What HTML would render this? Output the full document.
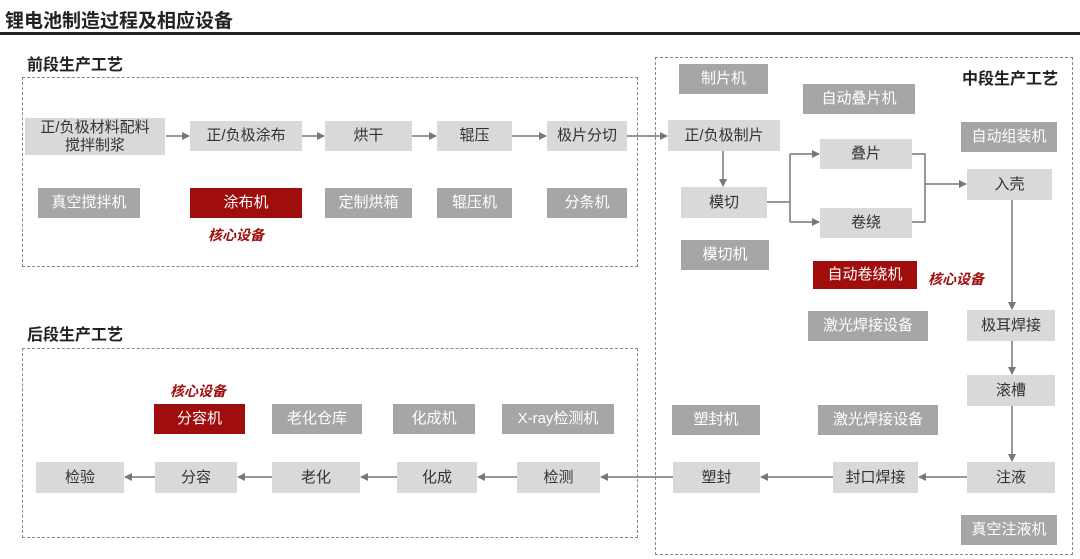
<!DOCTYPE html>
<html><head><meta charset="utf-8"><style>
body{margin:0;width:1080px;height:559px;background:#fff;position:relative;overflow:hidden;font-family:"Liberation Sans","Noto Sans CJK SC",sans-serif}
.b{position:absolute;display:flex;align-items:center;justify-content:center;font-size:15px;line-height:18px;text-align:center}
.l{background:#d9d9d9;color:#333}
.g{background:#a6a6a6;color:#fff}
.r{background:#a00d0d;color:#fff}
.t{position:absolute;font-weight:bold;color:#222;font-size:16px}
.k{position:absolute;color:#a00d0d;font-weight:bold;font-style:italic;font-size:14px}
.d{position:absolute;border:1.5px dashed #888}
</style></head><body>
<div class="t" style="left:5px;top:6px;font-size:19px">锂电池制造过程及相应设备</div>
<div style="position:absolute;left:0;top:32px;width:1080px;height:3px;background:#222"></div>
<div class="t" style="left:27px;top:51px">前段生产工艺</div>
<div class="d" style="left:22px;top:77px;width:614px;height:188px"></div>
<div class="t" style="left:27px;top:321px">后段生产工艺</div>
<div class="d" style="left:22px;top:348px;width:614px;height:188px"></div>
<div class="d" style="left:655px;top:57px;width:416px;height:496px"></div>
<div class="t" style="left:962px;top:65px">中段生产工艺</div>

<div class="b l" style="left:25px;top:118px;width:140px;height:37px">正/负极材料配料<br>搅拌制浆</div>
<div class="b l" style="left:190px;top:121px;width:112px;height:30px">正/负极涂布</div>
<div class="b l" style="left:325px;top:121px;width:87px;height:30px">烘干</div>
<div class="b l" style="left:437px;top:121px;width:75px;height:30px">辊压</div>
<div class="b l" style="left:547px;top:121px;width:80px;height:30px">极片分切</div>
<div class="b g" style="left:38px;top:188px;width:102px;height:30px">真空搅拌机</div>
<div class="b r" style="left:190px;top:188px;width:112px;height:30px">涂布机</div>
<div class="b g" style="left:325px;top:188px;width:87px;height:30px">定制烘箱</div>
<div class="b g" style="left:437px;top:188px;width:75px;height:30px">辊压机</div>
<div class="b g" style="left:547px;top:188px;width:80px;height:30px">分条机</div>
<div class="k" style="left:208px;top:225px">核心设备</div>

<div class="b g" style="left:679px;top:64px;width:89px;height:30px">制片机</div>
<div class="b g" style="left:803px;top:84px;width:112px;height:30px">自动叠片机</div>
<div class="b l" style="left:668px;top:120px;width:112px;height:31px">正/负极制片</div>
<div class="b g" style="left:961px;top:122px;width:96px;height:30px">自动组装机</div>
<div class="b l" style="left:820px;top:139px;width:92px;height:30px">叠片</div>
<div class="b l" style="left:967px;top:169px;width:85px;height:31px">入壳</div>
<div class="b l" style="left:681px;top:187px;width:86px;height:31px">模切</div>
<div class="b l" style="left:820px;top:208px;width:92px;height:30px">卷绕</div>
<div class="b g" style="left:681px;top:240px;width:88px;height:30px">模切机</div>
<div class="b r" style="left:813px;top:261px;width:104px;height:28px">自动卷绕机</div>
<div class="k" style="left:928px;top:269px">核心设备</div>
<div class="b g" style="left:808px;top:311px;width:120px;height:30px">激光焊接设备</div>
<div class="b l" style="left:967px;top:310px;width:88px;height:31px">极耳焊接</div>
<div class="b l" style="left:967px;top:375px;width:88px;height:31px">滚槽</div>
<div class="b g" style="left:672px;top:405px;width:88px;height:30px">塑封机</div>
<div class="b g" style="left:818px;top:405px;width:120px;height:30px">激光焊接设备</div>
<div class="b l" style="left:967px;top:462px;width:88px;height:31px">注液</div>
<div class="b l" style="left:833px;top:462px;width:85px;height:31px">封口焊接</div>
<div class="b l" style="left:673px;top:462px;width:87px;height:31px">塑封</div>
<div class="b g" style="left:961px;top:515px;width:96px;height:30px">真空注液机</div>

<div class="k" style="left:170px;top:381px">核心设备</div>
<div class="b r" style="left:154px;top:404px;width:91px;height:30px">分容机</div>
<div class="b g" style="left:272px;top:404px;width:90px;height:30px">老化仓库</div>
<div class="b g" style="left:393px;top:404px;width:82px;height:30px">化成机</div>
<div class="b g" style="left:502px;top:404px;width:112px;height:30px">X-ray检测机</div>
<div class="b l" style="left:36px;top:462px;width:88px;height:31px">检验</div>
<div class="b l" style="left:155px;top:462px;width:82px;height:31px">分容</div>
<div class="b l" style="left:272px;top:462px;width:88px;height:31px">老化</div>
<div class="b l" style="left:397px;top:462px;width:80px;height:31px">化成</div>
<div class="b l" style="left:517px;top:462px;width:83px;height:31px">检测</div>

<svg width="1080" height="559" style="position:absolute;left:0;top:0" fill="none" stroke="#777" stroke-width="1.5">
<defs><marker id="a" markerWidth="8" markerHeight="8" refX="7" refY="4" orient="auto" markerUnits="userSpaceOnUse"><path d="M0,0L8,4L0,8z" fill="#777" stroke="none"/></marker></defs>
<g marker-end="url(#a)">
<path d="M166 136H189"/><path d="M302 136H324"/><path d="M412 136H436"/><path d="M512 136H546"/><path d="M627 136H667"/>
<path d="M723 151V186"/>
<path d="M790 154H819"/><path d="M790 222H819"/>
<path d="M925 184H966"/>
<path d="M1012 200V309"/><path d="M1012 341V374"/><path d="M1012 406V461"/>
<path d="M967 477H919"/><path d="M833 477H761"/><path d="M673 477H601"/>
<path d="M517 477H478"/><path d="M397 477H361"/><path d="M272 477H238"/><path d="M155 477H125"/>
</g>
<path d="M767 202H790M790 154V222"/>
<path d="M912 154H925V222H912"/>
</svg>
</body></html>
